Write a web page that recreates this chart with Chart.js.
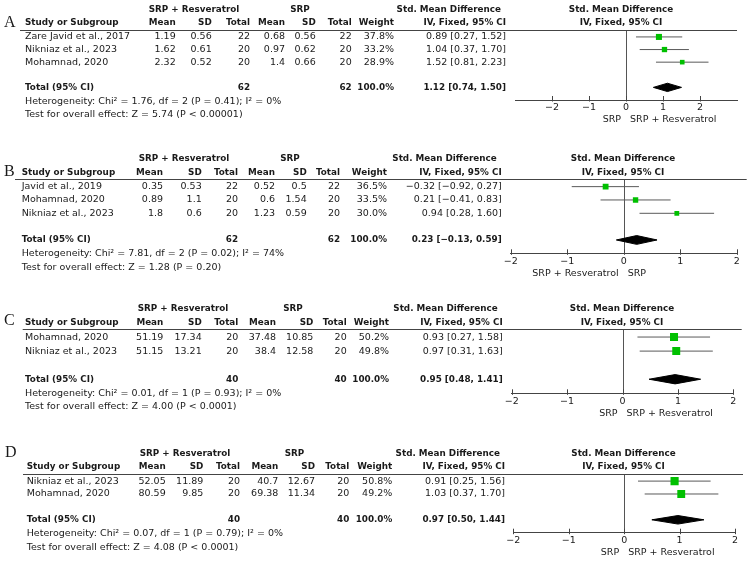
<!DOCTYPE html>
<html>
<head>
<meta charset="utf-8">
<script src="https://cdn.jsdelivr.net/npm/chart.js@4.4.1/dist/chart.umd.min.js"></script>
<style>
  html, body { margin: 0; padding: 0; background: #fff; }
  #wrap { position: relative; width: 751px; height: 561px; }
  #wrap canvas { position: absolute; left: 0; top: 0; }
</style>
</head>
<body>
<div id="wrap">
  <canvas id="chartA" width="751" height="561"></canvas>
  <canvas id="chartB" width="751" height="561"></canvas>
  <canvas id="chartC" width="751" height="561"></canvas>
  <canvas id="chartD" width="751" height="561"></canvas>
</div>
<script>
// Panel A
const studiesA = ['Zare Javid et al., 2017', 'Nikniaz et al., 2023', 'Mohamnad, 2020'];
const expMeanA = [1.19, 1.62, 2.32];
const expSdA = [0.56, 0.61, 0.52];
const expNA = [22, 20, 20];
const ctlMeanA = [0.68, 0.97, 1.4];
const ctlSdA = [0.56, 0.62, 0.66];
const ctlNA = [22, 20, 20];
const weightA = [37.8, 33.2, 28.9];
const smdA = [0.89, 1.04, 1.52];
const lowerA = [0.27, 0.37, 0.81];
const upperA = [1.52, 1.70, 2.23];
const pooledA = [1.12, 0.74, 1.50];
const hetA = [1.76, 2, '= 0.41', 0];
const effectA = [5.74, '< 0.00001'];

// Panel B
const studiesB = ['Javid et al., 2019', 'Mohamnad, 2020', 'Nikniaz et al., 2023'];
const expMeanB = [0.35, 0.89, 1.8];
const expSdB = [0.53, 1.1, 0.6];
const expNB = [22, 20, 20];
const ctlMeanB = [0.52, 0.6, 1.23];
const ctlSdB = [0.5, 1.54, 0.59];
const ctlNB = [22, 20, 20];
const weightB = [36.5, 33.5, 30.0];
const smdB = [-0.32, 0.21, 0.94];
const lowerB = [-0.92, -0.41, 0.28];
const upperB = [0.27, 0.83, 1.60];
const pooledB = [0.23, -0.13, 0.59];
const hetB = [7.81, 2, '= 0.02', 74];
const effectB = [1.28, '= 0.20'];

// Panel C
const studiesC = ['Mohamnad, 2020', 'Nikniaz et al., 2023'];
const expMeanC = [51.19, 51.15];
const expSdC = [17.34, 13.21];
const expNC = [20, 20];
const ctlMeanC = [37.48, 38.4];
const ctlSdC = [10.85, 12.58];
const ctlNC = [20, 20];
const weightC = [50.2, 49.8];
const smdC = [0.93, 0.97];
const lowerC = [0.27, 0.31];
const upperC = [1.58, 1.63];
const pooledC = [0.95, 0.48, 1.41];
const hetC = [0.01, 1, '= 0.93', 0];
const effectC = [4.00, '< 0.0001'];

// Panel D
const studiesD = ['Nikniaz et al., 2023', 'Mohamnad, 2020'];
const expMeanD = [52.05, 80.59];
const expSdD = [11.89, 9.85];
const expND = [20, 20];
const ctlMeanD = [40.7, 69.38];
const ctlSdD = [12.67, 11.34];
const ctlND = [20, 20];
const weightD = [50.8, 49.2];
const smdD = [0.91, 1.03];
const lowerD = [0.25, 0.37];
const upperD = [1.56, 1.70];
const pooledD = [0.97, 0.50, 1.44];
const hetD = [0.07, 1, '= 0.79', 0];
const effectD = [4.08, '< 0.0001'];

const tickValues = [-2, -1, 0, 1, 2];
const favoursA = ['SRP', 'SRP + Resveratrol'];
const favoursB = ['SRP + Resveratrol', 'SRP'];

const FONT = '"DejaVu Sans", sans-serif';
const REG = '9.5px ' + FONT;
const BOLD = 'bold 8.8px ' + FONT;
const INK = '#1a1a1a';
const AXIS_H = 20; // room under the axis for tick labels

function num(v) { return String(v).replace('-', '\u2212'); }
function f2(v) { return v.toFixed(2).replace('-', '\u2212'); }
function ciText(e, l, h) { return f2(e) + ' [' + f2(l) + ', ' + f2(h) + ']'; }
function sum(a) { return a.reduce((s, v) => s + v, 0); }

const panels = [
  { id: 'chartA', letter: 'A', letterX: 4, letterY: 22.5,
    d: { studies: studiesA, expMean: expMeanA, expSd: expSdA, expN: expNA, ctlMean: ctlMeanA, ctlSd: ctlSdA, ctlN: ctlNA,
         weight: weightA, smd: smdA, lower: lowerA, upper: upperA, pooled: pooledA, het: hetA, effect: effectA, favours: favoursA },
    lineY: 30, axisY: 100, left: 515, right: 737, xmin: -3, xmax: 3, lineX1: 20, lineX2: 737,
    cols: [25, 175.7, 211.7, 250, 285, 315.7, 351.7, 394, 506], grpExp: 194, grpCtl: 300, plotHead: 621 },
  { id: 'chartB', letter: 'B', letterX: 4, letterY: 172,
    d: { studies: studiesB, expMean: expMeanB, expSd: expSdB, expN: expNB, ctlMean: ctlMeanB, ctlSd: ctlSdB, ctlN: ctlNB,
         weight: weightB, smd: smdB, lower: lowerB, upper: upperB, pooled: pooledB, het: hetB, effect: effectB, favours: favoursB },
    lineY: 179.3, axisY: 253.3, left: 510.7, right: 736.7, xmin: -2, xmax: 2, lineX1: 15, lineX2: 746.7,
    cols: [21.7, 163, 201.7, 238, 275, 306.7, 340, 387, 501.7], grpExp: 184, grpCtl: 290, plotHead: 623 },
  { id: 'chartC', letter: 'C', letterX: 4, letterY: 321,
    d: { studies: studiesC, expMean: expMeanC, expSd: expSdC, expN: expNC, ctlMean: ctlMeanC, ctlSd: ctlSdC, ctlN: ctlNC,
         weight: weightC, smd: smdC, lower: lowerC, upper: upperC, pooled: pooledC, het: hetC, effect: effectC, favours: favoursA },
    lineY: 329.3, axisY: 393.3, left: 511.7, right: 733.3, xmin: -2, xmax: 2, lineX1: 22.7, lineX2: 741.7,
    cols: [25, 163.3, 201.7, 238.3, 276, 313.3, 346.7, 389, 502.7], grpExp: 183, grpCtl: 293, plotHead: 622 },
  { id: 'chartD', letter: 'D', letterX: 5, letterY: 453,
    d: { studies: studiesD, expMean: expMeanD, expSd: expSdD, expN: expND, ctlMean: ctlMeanD, ctlSd: ctlSdD, ctlN: ctlND,
         weight: weightD, smd: smdD, lower: lowerD, upper: upperD, pooled: pooledD, het: hetD, effect: effectD, favours: favoursA },
    lineY: 474, axisY: 532.7, left: 513.3, right: 735, xmin: -2, xmax: 2, lineX1: 23, lineX2: 743,
    cols: [26.7, 165.7, 203.3, 240, 278.3, 315, 349.3, 392.3, 505], grpExp: 185, grpCtl: 294.5, plotHead: 623.5 }
];

function forestPlugin(p) {
  const d = p.d;
  const n = d.studies.length;
  return {
    id: 'forest',
    beforeDatasetsDraw(chart) {
      const ctx = chart.ctx, a = chart.chartArea, x = chart.scales.x;
      const x0 = Math.round(x.getPixelForValue(0)) + 0.5;
      ctx.save();
      ctx.strokeStyle = '#555';
      ctx.lineWidth = 1;
      ctx.beginPath();
      ctx.moveTo(x0, a.top);
      ctx.lineTo(x0, a.bottom);
      ctx.stroke();
      ctx.restore();
    },
    afterDraw(chart) {
      const ctx = chart.ctx, a = chart.chartArea, x = chart.scales.x, y = chart.scales.y;
      const c = p.cols;
      ctx.save();
      // header rule and tick marks
      ctx.strokeStyle = '#444';
      ctx.lineWidth = 1;
      ctx.beginPath();
      const ly = Math.round(a.top) + 0.5;
      ctx.moveTo(p.lineX1, ly);
      ctx.lineTo(p.lineX2, ly);
      tickValues.forEach(v => {
        const px = Math.round(x.getPixelForValue(v)) + 0.5;
        ctx.moveTo(px, a.bottom - 4);
        ctx.lineTo(px, a.bottom + 1.5);
      });
      ctx.stroke();

      ctx.fillStyle = INK;
      ctx.textBaseline = 'middle';
      ctx.font = '16px "Liberation Serif", serif';
      ctx.textAlign = 'left';
      ctx.fillText(p.letter, p.letterX, p.letterY);

      const h1 = a.top - 20.5, h2 = a.top - 7;
      ctx.font = BOLD;
      ctx.textAlign = 'center';
      ctx.fillText('SRP + Resveratrol', p.grpExp, h1);
      ctx.fillText('SRP', p.grpCtl, h1);
      ctx.fillText('Std. Mean Difference', p.plotHead, h1);
      ctx.fillText('IV, Fixed, 95% CI', p.plotHead, h2);
      ctx.textAlign = 'right';
      ctx.fillText('Std. Mean Difference', c[8] - 5, h1);
      ['Mean', 'SD', 'Total', 'Mean', 'SD', 'Total', 'Weight', 'IV, Fixed, 95% CI']
        .forEach((t, i) => ctx.fillText(t, c[i + 1], h2));
      ctx.textAlign = 'left';
      ctx.fillText('Study or Subgroup', c[0], h2);

      // study rows
      ctx.font = REG;
      d.studies.forEach((s, i) => {
        const ry = y.getPixelForValue(i);
        ctx.textAlign = 'left';
        ctx.fillText(s, c[0], ry);
        ctx.textAlign = 'right';
        const vals = [num(d.expMean[i]), num(d.expSd[i]), d.expN[i], num(d.ctlMean[i]), num(d.ctlSd[i]), d.ctlN[i],
          d.weight[i].toFixed(1) + '%', ciText(d.smd[i], d.lower[i], d.upper[i])];
        vals.forEach((t, k) => ctx.fillText(String(t), c[k + 1], ry));
      });

      // total row
      const ty = y.getPixelForValue(n + 1);
      ctx.font = BOLD;
      ctx.textAlign = 'left';
      ctx.fillText('Total (95% CI)', c[0], ty);
      ctx.textAlign = 'right';
      ctx.fillText(String(sum(d.expN)), c[3], ty);
      ctx.fillText(String(sum(d.ctlN)), c[6], ty);
      ctx.fillText('100.0%', c[7], ty);
      ctx.fillText(ciText(d.pooled[0], d.pooled[1], d.pooled[2]), c[8], ty);

      ctx.font = REG;
      ctx.textAlign = 'left';
      const h = d.het, e = d.effect;
      ctx.fillText('Heterogeneity: Chi\u00b2 = ' + h[0].toFixed(2) + ', df = ' + h[1] + ' (P ' + h[2] + '); I\u00b2 = ' + h[3] + '%', c[0], ty + 14);
      ctx.fillText('Test for overall effect: Z = ' + e[0].toFixed(2) + ' (P ' + e[1] + ')', c[0], ty + 27.5);

      // favours labels
      const zx = x.getPixelForValue(0), fy = a.bottom + 20;
      ctx.textAlign = 'right';
      ctx.fillText(d.favours[0], zx - 5, fy);
      ctx.textAlign = 'left';
      ctx.fillText(d.favours[1], zx + 4, fy);
      ctx.restore();
    }
  };
}

panels.forEach(p => {
  const d = p.d;
  const n = d.studies.length;
  const datasets = [];
  datasets.push({
    type: 'scatter',
    data: d.smd.map((v, i) => ({ x: v, y: i })),
    pointStyle: 'rect',
    pointRadius: d.weight.map(w => w * 0.16 / Math.SQRT2),
    backgroundColor: '#00c000',
    borderWidth: 0
  });
  const yt = n + 1;
  const [est, lo, hi] = d.pooled;
  datasets.push({
    type: 'line',
    data: [{ x: lo, y: yt }, { x: est, y: yt - 0.33 }, { x: hi, y: yt }, { x: est, y: yt + 0.33 }, { x: lo, y: yt }],
    borderColor: '#000',
    backgroundColor: '#000',
    borderWidth: 1,
    fill: 'shape',
    pointRadius: 0,
    tension: 0
  });
  d.lower.forEach((l, i) => {
    datasets.push({
      type: 'line',
      data: [{ x: l, y: i }, { x: d.upper[i], y: i }],
      borderColor: '#5a5a5a',
      borderWidth: 1,
      pointRadius: 0,
      fill: false
    });
  });

  new Chart(document.getElementById(p.id), {
    type: 'scatter',
    data: { datasets },
    options: {
      responsive: false,
      animation: false,
      events: [],
      layout: { padding: { left: p.left, right: 751 - p.right, top: p.lineY, bottom: 561 - p.axisY - AXIS_H } },
      plugins: { legend: { display: false }, tooltip: { enabled: false } },
      scales: {
        x: {
          type: 'linear',
          position: 'bottom',
          min: p.xmin,
          max: p.xmax,
          grid: { display: false, drawTicks: false },
          border: { display: true, color: '#444', width: 1 },
          ticks: {
            autoSkip: false,
            maxRotation: 0,
            padding: 2.3,
            color: INK,
            font: { family: '"DejaVu Sans", sans-serif', size: 9.5 },
            callback: v => num(v)
          },
          afterBuildTicks: s => { s.ticks = tickValues.map(v => ({ value: v })); },
          afterFit: s => { s.height = AXIS_H; }
        },
        y: {
          type: 'linear',
          display: false,
          reverse: true,
          min: -0.55,
          max: n + 2
        }
      }
    },
    plugins: [forestPlugin(p)]
  });
});
</script>
</body>
</html>
